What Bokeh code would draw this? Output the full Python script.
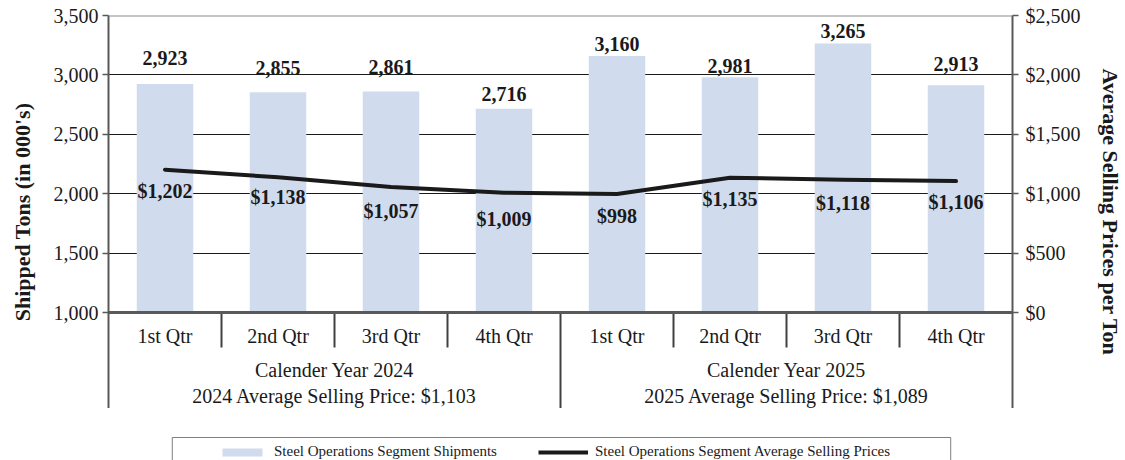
from bokeh.plotting import figure
from bokeh.layouts import column
from bokeh.models import (Range1d, LinearAxis, FixedTicker, NumeralTickFormatter, Span,
                          ColumnDataSource, Legend, LegendItem, Grid)
from bokeh.core.properties import value
from bokeh.embed import file_html
from bokeh.resources import INLINE

# ---------------- data ----------------
quarters = ["1st Qtr", "2nd Qtr", "3rd Qtr", "4th Qtr", "1st Qtr", "2nd Qtr", "3rd Qtr", "4th Qtr"]
years = ["Calender Year 2024", "Calender Year 2025"]
year_avg = ["2024 Average Selling Price: $1,103", "2025 Average Selling Price: $1,089"]
shipments = [2923, 2855, 2861, 2716, 3160, 2981, 3265, 2913]
prices = [1202, 1138, 1057, 1009, 998, 1135, 1118, 1106]
ship_ticks = [1000, 1500, 2000, 2500, 3000, 3500]
price_ticks = [0, 500, 1000, 1500, 2000, 2500]
series_names = ["Steel Operations Segment Shipments", "Steel Operations Segment Average Selling Prices"]

# ---------------- styles / layout ----------------
ship_label_lift = [26, 24, 24, 15, 12, 11, 12, 21]     # px above bar top
price_label_drop = [21, 20, 24, 26, 22, 21, 23, 21]    # px below line point
FONT = "Liberation Serif"
BAR_COLOR = "#D0DCEE"
LINE_COLOR = "#1a1a1a"
DARK = "#595959"

W = 1125
H1, H2 = 408, 52
LEFT, RIGHT, TOP = 108, 110, 15
frame_w = W - LEFT - RIGHT
frame_h = H1 - TOP
table_px = 96
ship_lo, ship_hi = ship_ticks[0], ship_ticks[-1]
upp = (ship_hi - ship_lo) / (frame_h - table_px)
y_start = ship_lo - table_px * upp
p_lo, p_hi = price_ticks[0], price_ticks[-1]
price_upp = (p_hi - p_lo) / (frame_h - table_px)
price_start = p_lo - table_px * price_upp

n = len(shipments)
xs = [i + 0.5 for i in range(n)]

p = figure(width=W, height=H1, x_range=Range1d(0, n), y_range=Range1d(y_start, ship_hi),
           output_backend="svg", toolbar_location=None,
           x_axis_location=None, y_axis_location=None,
           min_border_left=LEFT, min_border_right=RIGHT, min_border_top=TOP, min_border_bottom=0,
           outline_line_color=None, background_fill_color="white", border_fill_color="white")
p.extra_y_ranges = {"price": Range1d(price_start, p_hi)}
p.center = [r for r in p.center if not isinstance(r, Grid)]

def style_axis(ax, standoff, title_standoff):
    ax.axis_line_color = DARK
    ax.axis_line_width = 2
    ax.major_tick_line_color = DARK
    ax.major_tick_line_width = 1.5
    ax.major_tick_out = 6
    ax.major_tick_in = 0
    ax.minor_tick_line_color = None
    ax.major_label_text_font = FONT
    ax.major_label_text_font_size = "20px"
    ax.major_label_text_color = "#1a1a1a"
    ax.major_label_standoff = standoff
    ax.axis_label_text_font = FONT
    ax.axis_label_text_font_style = "bold"
    ax.axis_label_text_font_size = "22px"
    ax.axis_label_text_color = "#1a1a1a"
    ax.axis_label_standoff = title_standoff

yl = LinearAxis(ticker=FixedTicker(ticks=ship_ticks), formatter=NumeralTickFormatter(format="0,0"),
                axis_label="Shipped Tons (in 000's)")
style_axis(yl, 4, 16)
p.add_layout(yl, "left")

yr = LinearAxis(y_range_name="price", ticker=FixedTicker(ticks=price_ticks),
                formatter=NumeralTickFormatter(format="$0,0"),
                axis_label="Average Selling Prices per Ton")
style_axis(yr, 7, 14)
p.add_layout(yr, "right")

grid = Grid(dimension=1, ticker=FixedTicker(ticks=ship_ticks[1:-1]),
            grid_line_color="#1a1a1a", grid_line_width=1)
p.add_layout(grid)

# bars
p.vbar(x=xs, top=shipments, bottom=ship_lo, width=0.5, fill_color=BAR_COLOR, line_color=None)

# price line
p.line(x=xs, y=prices, y_range_name="price", line_color=LINE_COLOR, line_width=4,
       line_join="round", line_cap="round")

# top border and baseline
p.add_layout(Span(location=ship_hi, dimension="width", line_color="#8c8c8c", line_width=2))
p.add_layout(Span(location=ship_lo, dimension="width", line_color=DARK, line_width=3))

# data labels
ship_src = ColumnDataSource(dict(x=xs, y=shipments, t=[f"{v:,}" for v in shipments],
                                 dy=[-d for d in ship_label_lift]))
p.text(x="x", y="y", text="t", y_offset="dy", source=ship_src, text_font=value(FONT),
       text_font_style="bold", text_font_size="20px", text_align="center",
       text_baseline="middle", text_color="#1a1a1a")

price_src = ColumnDataSource(dict(x=xs, y=prices, t=[f"${v:,}" for v in prices], dy=price_label_drop))
p.text(x="x", y="y", text="t", y_offset="dy", source=price_src, y_range_name="price",
       text_font=value(FONT), text_font_style="bold", text_font_size="20px", text_align="center",
       text_baseline="middle", text_color="#1a1a1a")

# category table below the plot
q_src = ColumnDataSource(dict(x=xs, y=[ship_lo] * n, t=quarters))
p.text(x="x", y="y", text="t", y_offset=23, source=q_src, text_font=value(FONT),
       text_font_size="20px", text_align="center", text_baseline="middle", text_color="#1a1a1a")

half = n // 2
gx = [half / 2, half + half / 2]
p.text(x=gx, y=[ship_lo] * 2, text=years, y_offset=57, text_font=value(FONT),
       text_font_size="20px", text_align="center", text_baseline="middle", text_color="#1a1a1a")
p.text(x=gx, y=[ship_lo] * 2, text=year_avg, y_offset=83, text_font=value(FONT),
       text_font_size="20px", text_align="center", text_baseline="middle", text_color="#1a1a1a")

sep_x = [i for i in range(1, n) if i != half]
sep_bottom = ship_lo - 35 * upp
p.segment(x0=sep_x, y0=[ship_lo] * len(sep_x), x1=sep_x, y1=[sep_bottom] * len(sep_x),
          line_color="#404040", line_width=2)
p.segment(x0=[half], y0=[ship_lo], x1=[half], y1=[y_start], line_color="#404040", line_width=2)

# ---------------- legend strip (frame aligned with the chart frame) ----------------
xpx = n / frame_w  # data units per pixel along x
lg = figure(width=W, height=H2, x_range=p.x_range, y_range=Range1d(0, H2),
            output_backend="svg", toolbar_location=None, x_axis_location=None, y_axis_location=None,
            min_border_left=LEFT, min_border_right=RIGHT, min_border_top=0, min_border_bottom=0,
            outline_line_color=None, background_fill_color="white", border_fill_color="white")
lg.center = [r for r in lg.center if not isinstance(r, Grid)]
# legend frame; its lower edge falls below the page, as in the reference
box_l_px, box_r_px, box_top_px = 64, 845, 29
lg.quad(left=[box_l_px * xpx], right=[box_r_px * xpx], top=[H2 - box_top_px], bottom=[-20],
        fill_color=None, line_color="#7f7f7f", line_width=1)
# key renderers (zero-size, only used to draw the legend swatches)
key_src = ColumnDataSource(dict(x=[0], y=[0]))
bar_key = lg.vbar(x="x", top="y", bottom="y", width=0, source=key_src,
                  fill_color=BAR_COLOR, line_color=None)
line_key = lg.line(x="x", y="y", source=key_src, line_color=LINE_COLOR, line_width=4)
legend = Legend(items=[LegendItem(label=series_names[0], renderers=[bar_key]),
                       LegendItem(label=series_names[1], renderers=[line_key])],
                orientation="horizontal", location=(109, 0), padding=5, spacing=24,
                glyph_width=50, glyph_height=10, label_standoff=7, label_width=240, label_height=12,
                label_text_font=FONT, label_text_font_size="15px", label_text_color="#1a1a1a",
                border_line_color=None, background_fill_alpha=0, margin=0)
lg.add_layout(legend)

layout = column(p, lg, spacing=0)
open("out.html", "w").write(file_html(layout, INLINE))
